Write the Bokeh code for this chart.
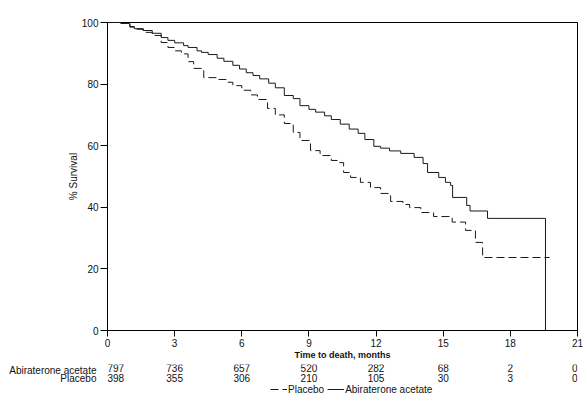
from bokeh.plotting import figure
from bokeh.layouts import column
from bokeh.models import Range1d, FixedTicker, Legend, LegendItem
from bokeh.core.properties import value
from bokeh.embed import file_html
from bokeh.resources import INLINE

# ---- data ----
abi_t = [0, 0.6, 1.0, 1.2, 1.6, 2.0, 2.4, 2.7, 3.0, 3.4, 3.6, 4.0, 4.2, 4.5, 4.9, 5.2,
         5.6, 5.9, 6.2, 6.5, 6.8, 7.2, 7.5, 7.9, 8.3, 8.6, 9.0, 9.3, 9.7, 10.0, 10.4,
         10.8, 11.2, 11.5, 11.9, 12.2, 12.6, 13.1, 13.7, 14.1, 14.3, 14.8, 15.1, 15.33,
         15.42, 16.05, 16.2, 16.98, 19.57]
abi_s = [100, 99.7, 98.7, 98.0, 97.4, 96.5, 95.1, 94.2, 93.4, 92.5, 91.9, 90.8, 90.3,
         89.6, 88.4, 87.4, 86.1, 84.9, 83.7, 82.8, 81.7, 80.3, 78.8, 76.3, 75.3, 73.0,
         71.8, 70.9, 69.7, 68.5, 67.0, 65.4, 64.0, 62.0, 59.8, 59.2, 58.3, 57.5, 56.2,
         54.2, 51.3, 49.7, 48.1, 47.1, 43.2, 40.6, 38.8, 36.4, 0]

pla_t = [0, 0.6, 1.0, 1.2, 1.6, 2.0, 2.4, 2.7, 3.0, 3.3, 3.6, 3.85, 4.3, 4.9, 5.3, 5.6,
         6.0, 6.4, 6.7, 7.15, 7.5, 7.9, 8.3, 8.6, 9.07, 9.5, 10.0, 10.3, 10.55, 10.86,
         11.3, 11.75, 12.2, 12.65, 13.2, 13.5, 14.0, 14.57, 15.4, 16.0, 16.44, 16.76,
         19.75]
pla_s = [100, 99.7, 98.5, 97.8, 96.8, 95.8, 93.5, 91.9, 90.8, 89.8, 87.3, 85.1, 82.1,
         81.5, 80.6, 79.5, 78.0, 76.5, 75.0, 72.1, 70.0, 67.2, 64.3, 61.7, 58.4, 56.8,
         55.2, 54.5, 51.3, 49.7, 48.1, 46.4, 44.5, 41.9, 40.9, 39.9, 38.3, 37.0, 35.2,
         32.5, 28.6, 23.7, 23.7]

x_ticks = [0, 3, 6, 9, 12, 15, 18, 21]
y_ticks = [0, 20, 40, 60, 80, 100]
risk_times = [0, 3, 6, 9, 12, 15, 18, 21]
risk_abi = ["797", "736", "657", "520", "282", "68", "2", "0"]
risk_pla = ["398", "355", "306", "210", "105", "30", "3", "0"]
row_names = ["Abiraterone acetate", "Placebo"]
series_names = ["Placebo", "Abiraterone acetate"]

FONT = "Liberation Sans"
TXT = "#111111"
LINE = "#1a1a1a"
NAN = float("nan")

W = 586
LEFT, RIGHT, TOP = 107, 9, 22

p = figure(width=W, height=364, output_backend="svg", toolbar_location=None,
           x_range=Range1d(0, 21), y_range=Range1d(0, 100),
           min_border_left=LEFT, min_border_right=RIGHT, min_border_top=TOP,
           min_border_bottom=34)
p.grid.visible = False
p.outline_line_color = "#000000"
p.outline_line_width = 1
p.border_fill_color = "white"

for ax in (p.xaxis[0], p.yaxis[0]):
    ax.axis_line_color = "#000000"
    ax.major_tick_line_color = "#000000"
    ax.minor_tick_line_color = None
    ax.major_tick_in = 0
    ax.major_label_text_font = FONT
    ax.major_label_text_font_size = "10px"
    ax.major_label_text_color = TXT
    ax.axis_label_text_font = FONT
    ax.axis_label_text_color = TXT

p.xaxis.ticker = FixedTicker(ticks=x_ticks)
p.xaxis.major_tick_out = 6
p.xaxis.major_label_standoff = 2
p.xaxis.axis_label = "Time to death, months"
p.xaxis.axis_label_text_font_size = "9px"
p.xaxis.axis_label_text_font_style = "bold"
p.xaxis.axis_label_standoff = 0

p.yaxis.ticker = FixedTicker(ticks=y_ticks)
p.yaxis.major_tick_out = 7
p.yaxis.major_label_standoff = 2
p.yaxis.axis_label = "% Survival"
p.yaxis.axis_label_text_font_size = "10px"
p.yaxis.axis_label_text_font_style = "normal"
p.yaxis.axis_label_standoff = 0

p.step(pla_t, pla_s, mode="after", line_color=LINE, line_width=1, line_dash="8 4")
p.step(abi_t, abi_s, mode="after", line_color=LINE, line_width=1)

# ---- risk table + legend panel (frame aligned with the plot above) ----
H2 = 399 - 364
p2 = figure(width=W, height=H2, output_backend="svg", toolbar_location=None,
            x_axis_type=None, x_range=p.x_range, y_range=Range1d(-H2, 0),
            min_border_left=LEFT, min_border_right=RIGHT, min_border_top=0,
            min_border_bottom=0)
p2.grid.visible = False
p2.outline_line_color = None
p2.border_fill_color = "white"

row_y = [-3, -13.5]
ya = p2.yaxis[0]
ya.ticker = FixedTicker(ticks=row_y)
ya.major_label_overrides = {row_y[0]: row_names[0], row_y[1]: row_names[1]}
ya.axis_line_color = None
ya.major_tick_line_color = None
ya.minor_tick_line_color = None
ya.major_label_standoff = 5
ya.major_label_text_font = FONT
ya.major_label_text_font_size = "10px"
ya.major_label_text_color = TXT

n = len(risk_times)
for vals, yy in ((risk_abi, row_y[0]), (risk_pla, row_y[1])):
    p2.text(x=risk_times[1:n - 1], y=[yy] * (n - 2), text=vals[1:n - 1],
            text_align="center", text_baseline="middle", text_font=value(FONT),
            text_font_size="10px", text_color=TXT)
    p2.text(x=[risk_times[0]], y=[yy], text=[vals[0]],
            text_align="left", text_baseline="middle", text_font=value(FONT),
            text_font_size="10px", text_color=TXT)
    p2.text(x=[risk_times[-1]], y=[yy], text=[vals[-1]],
            text_align="right", text_baseline="middle", text_font=value(FONT),
            text_font_size="10px", text_color=TXT)

# legend proxies (a single undefined point each: they draw nothing themselves)
leg_pla = p2.line(x=[NAN], y=[NAN], line_color=LINE, line_width=1, line_dash="8 4")
leg_abi = p2.line(x=[NAN], y=[NAN], line_color=LINE, line_width=1)
legend = Legend(items=[LegendItem(label=series_names[0], renderers=[leg_pla]),
                       LegendItem(label=series_names[1], renderers=[leg_abi])],
                orientation="horizontal", location=(163, 4),
                border_line_color=None, background_fill_alpha=0,
                padding=0, margin=0, spacing=3, glyph_width=17, glyph_height=12,
                label_height=12, label_standoff=1, label_text_font=FONT,
                label_text_font_size="10px", label_text_color=TXT)
p2.add_layout(legend, "center")

layout = column(p, p2, spacing=0)
open("out.html", "w").write(file_html(layout, INLINE))
